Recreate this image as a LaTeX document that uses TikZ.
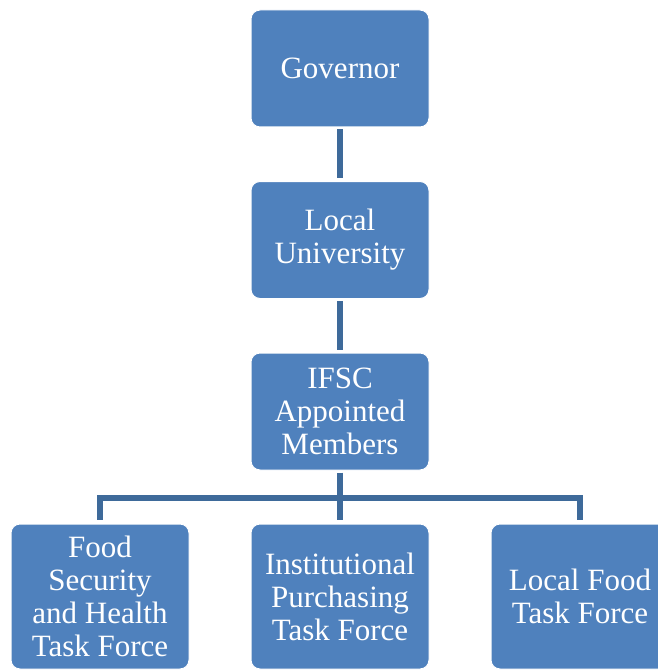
\documentclass[tikz,border=0pt]{standalone}
\usepackage{fontspec}
\setmainfont{Liberation Serif}
\usetikzlibrary{calc}
\definecolor{boxblue}{HTML}{4F81BD}
\definecolor{linkblue}{HTML}{3E6A9A}

\begin{document}
\begin{tikzpicture}[x=1pt,y=-1pt,
  orgbox/.style={draw=white, line width=1pt, fill=boxblue, rounded corners=9pt,
    minimum width=178pt, inner sep=0pt, text=white, align=center,
    font=\fontsize{31}{33}\selectfont},
  link/.style={linkblue, line width=5.5pt, line join=miter, shorten >=3pt, shorten <=2pt}]
\useasboundingbox (0,0) rectangle (657,671);
\def\toph{117}
\def\both{145}
\node[orgbox, minimum height=\toph] (gov) at (340,68.5) {Governor};
\node[orgbox, minimum height=\toph] (uni) at (340,240) {Local\\University};
\node[orgbox, minimum height=\toph] (ifsc) at (340,411.5) {IFSC\\Appointed\\Members};
\node[orgbox, minimum height=\both] (fsh) at (100,596.5) {Food\\Security\\and Health\\Task Force};
\node[orgbox, minimum height=\both] (ipt) at (340,596.5) {Institutional\\Purchasing\\Task Force};
\node[orgbox, minimum height=\both] (lft) at (580,596.5) {Local Food\\Task Force};
\coordinate (bar) at (340,498);
\draw[link] (gov) -- (uni);
\draw[link] (uni) -- (ifsc);
\draw[link, shorten >=0pt] (ifsc) -- (bar);
\foreach \n in {fsh, ipt, lft}
  \draw[link, shorten <=0pt, shorten >=4pt] (bar) -| (\n.north);
\end{tikzpicture}
\end{document}
